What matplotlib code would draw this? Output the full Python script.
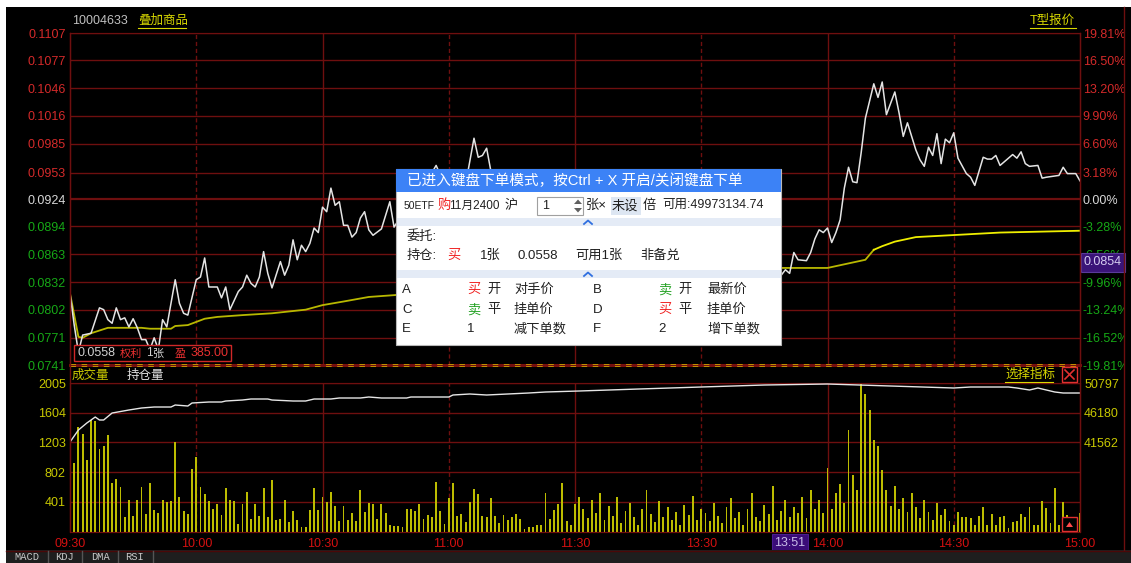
import numpy as np
import matplotlib
matplotlib.use("Agg")
import matplotlib.pyplot as plt
from matplotlib.patches import Rectangle, Polygon
from matplotlib.transforms import Bbox, TransformedBbox

plt.rcParams['font.family'] = ['Liberation Sans', 'Noto Sans CJK SC', 'DejaVu Sans']
plt.rcParams['font.size'] = 9

# ---------------- data ----------------
price_ticks = [0.1107, 0.1077, 0.1046, 0.1016, 0.0985, 0.0953, 0.0924,
               0.0894, 0.0863, 0.0832, 0.0802, 0.0771, 0.0741]
pct_labels = ['19.81%', '16.50%', '13.20%', '9.90%', '6.60%', '3.18%', '0.00%',
              '-3.28%', '-6.56%', '-9.96%', '-13.24%', '-16.52%', '-19.81%']
prev_close = 0.0924

time_ticks = [0, 30, 60, 90, 120, 150, 180, 210, 240]
time_labels = ['09:30', '10:00', '10:30', '11:00', '11:30', '13:30', '14:00', '14:30', '15:00']

vol_ticks = [401, 802, 1203, 1604, 2005]
oi_ticks = [41562, 46180, 50797]

# minute index (0 = 09:30, 120 = 11:30/13:00, 240 = 15:00) and price
price_min = [
    0, 1, 2, 3, 5, 7, 8, 9, 10, 11,
    12, 13, 14, 15, 16, 17, 18, 19, 20, 21,
    22, 23, 25, 26, 27, 28, 30, 31, 32, 33,
    35, 36, 37, 38, 40, 41, 42, 43, 44, 45,
    46, 47, 48, 50, 51, 52, 53, 54, 55, 56,
    57, 58, 59, 60, 61, 62, 63, 64, 65, 66,
    67, 68, 69, 70, 71, 72, 74, 76, 77, 80,
    83, 85, 87, 89, 92, 94, 96, 97, 98, 99,
    100, 103, 107, 112, 118, 125, 132, 140, 148, 155,
    162, 167, 169, 170, 171, 172, 173, 175, 176, 177,
    178, 179, 180, 181, 182, 183, 184, 185, 186, 187,
    188, 189, 191, 192, 193, 194, 196, 197, 198, 199,
    201, 202, 203, 204, 205, 206, 207, 208, 209, 210,
    211, 213, 214, 215, 217, 218, 219, 220, 221, 223,
    224, 225, 226, 227, 228, 230, 231, 232, 235, 236,
    237, 239, 240,
]
price_val = [
    0.0820, 0.0785, 0.0755, 0.0774, 0.0776, 0.0804, 0.0802, 0.0791, 0.0787, 0.0804,
    0.0791, 0.0793, 0.0783, 0.0792, 0.0782, 0.0769, 0.0769, 0.0758, 0.0771, 0.0758,
    0.0791, 0.0783, 0.0835, 0.0809, 0.0798, 0.0796, 0.0835, 0.0838, 0.0859, 0.0827,
    0.0827, 0.0815, 0.0827, 0.0802, 0.0822, 0.0827, 0.0840, 0.0831, 0.0827, 0.0838,
    0.0866, 0.0842, 0.0826, 0.0855, 0.0840, 0.0851, 0.0879, 0.0857, 0.0873, 0.0866,
    0.0875, 0.0892, 0.0887, 0.0915, 0.0910, 0.0936, 0.0917, 0.0921, 0.0895, 0.0895,
    0.0882, 0.0887, 0.0903, 0.0910, 0.0890, 0.0884, 0.0891, 0.0921, 0.0893, 0.0915,
    0.0935, 0.0945, 0.0961, 0.0940, 0.0948, 0.0940, 0.0991, 0.0970, 0.0972, 0.0980,
    0.0955, 0.0930, 0.0910, 0.0920, 0.0895, 0.0900, 0.0880, 0.0870, 0.0862, 0.0855,
    0.0848, 0.0845, 0.0840, 0.0846, 0.0842, 0.0865, 0.0857, 0.0856, 0.0865, 0.0880,
    0.0890, 0.0887, 0.0892, 0.0876, 0.0887, 0.0901, 0.0936, 0.0959, 0.0943, 0.0942,
    0.0975, 0.1013, 0.1051, 0.1036, 0.1053, 0.1017, 0.1042, 0.1019, 0.0993, 0.1008,
    0.0978, 0.0967, 0.0960, 0.0981, 0.0972, 0.0996, 0.0963, 0.0990, 0.0986, 0.0997,
    0.0969, 0.0952, 0.0948, 0.0939, 0.0970, 0.0968, 0.0968, 0.0972, 0.0961, 0.0969,
    0.0973, 0.0969, 0.0976, 0.0963, 0.0960, 0.0961, 0.0947, 0.0948, 0.0950, 0.0959,
    0.0952, 0.0952, 0.0944,
]

# average price line
avg_min = [0, 2, 3, 5, 9, 14, 17, 19, 24, 25,
           28, 32, 35, 41, 48, 56, 60, 65, 71, 77,
           100, 130, 150, 169, 174, 180, 183, 186, 189, 191,
           193, 196, 201, 209, 221, 240]
avg_val = [0.0820, 0.0772, 0.0771, 0.0776, 0.0782, 0.0782, 0.0782, 0.0781, 0.0781, 0.0784,
           0.0785, 0.0792, 0.0794, 0.0796, 0.0798, 0.0802, 0.0807, 0.0811, 0.0816, 0.0818,
           0.0827, 0.0838, 0.0845, 0.0848, 0.0848, 0.0848, 0.0851, 0.0854, 0.0857, 0.0868,
           0.0872, 0.0877, 0.0882, 0.0884, 0.0887, 0.0889]

# per-minute volume (成交量)
volume = [
    50, 930, 1405, 1310, 970, 1510, 1490, 1120, 1150, 1300,
    660, 715, 605, 200, 430, 215, 430, 605, 240, 660,
    295, 255, 430, 405, 415, 1215, 470, 280, 240, 850,
    1000, 605, 500, 415, 305, 365, 225, 590, 430, 415,
    105, 375, 540, 170, 375, 215, 590, 200, 700, 160,
    170, 430, 130, 280, 160, 65, 55, 295, 590, 295,
    470, 405, 540, 350, 145, 340, 160, 255, 145, 560,
    270, 390, 375, 170, 375, 255, 90, 80, 80, 55,
    305, 305, 280, 365, 170, 225, 200, 675, 280, 105,
    455, 660, 215, 240, 130, 405, 580, 500, 215, 190,
    455, 215, 120, 225, 160, 190, 240, 170, 40, 65,
    55, 85, 85, 525, 170, 295, 365, 660, 145, 85,
    365, 470, 300, 180, 420, 250, 520, 150, 340, 210,
    460, 120, 280, 380, 190, 90, 310, 560, 240, 130,
    410, 200, 330, 150, 270, 90, 360, 220, 480, 160,
    300, 250, 140, 380, 210, 110, 330, 450, 180, 260,
    90, 300, 520, 200, 140, 360, 230, 610, 150, 280,
    420, 190, 330, 250, 470, 180, 560, 300, 420, 250,
    860, 300, 520, 640, 380, 1375, 760, 560, 2000, 1850,
    1640, 1240, 1150, 830, 560, 350, 620, 300, 450, 260,
    520, 330, 180, 420, 260, 150, 380, 220, 310, 140,
    90, 270, 200, 190, 180, 90, 210, 335, 90, 235,
    90, 200, 210, 45, 125, 140, 235, 200, 335, 90,
    90, 410, 320, 110, 585, 90, 405, 225, 150, 60,
    245,
]

# open interest (持仓量)
oi_min = [0, 2, 4, 6, 7, 8, 10, 14, 17, 20,
          24, 25, 28, 29, 33, 36, 37, 41, 43, 47,
          48, 53, 56, 58, 62, 64, 69, 71, 74, 80,
          81, 90, 91, 95, 99, 104, 109, 113, 121, 135,
          150, 165, 180, 195, 210, 214, 223, 225, 228, 230,
          234, 236, 240]
oi_val = [41622, 43490, 44577, 45510, 45045, 45045, 46130, 46600, 46910, 47065,
          47065, 47376, 47220, 47687, 47842, 47842, 47998, 48153, 48309, 48309,
          48153, 47998, 47998, 48309, 48309, 48465, 48465, 48620, 48465, 48465,
          48620, 48620, 48931, 49087, 48931, 49087, 49242, 49398, 49553, 49860,
          50175, 50485, 50640, 50330, 50020, 50175, 50175, 50020, 49708, 50020,
          49398, 49242, 49242]

cursor_minute = 171
cursor_time = '13:51'
cursor_price = 0.0854

# ---------------- layout ----------------
W, H = 1131, 563


def px_box(x0, y0, x1, y1):
    return [x0 / W, 1 - y1 / H, (x1 - x0) / W, (y1 - y0) / H]


GRID = '#6e0f0f'
RED = '#d42a2a'
GREEN = '#16a816'
WHITE = '#d8d8d8'
YELLOW = '#c8c800'
TIME_RED = '#d41010'

fig = plt.figure(figsize=(W / 100, H / 100), dpi=100, facecolor='black')


def style(a):
    a.set_facecolor('black')
    for s in a.spines.values():
        s.set_color(GRID)
    a.tick_params(length=0)


def vgrid(a):
    for m in time_ticks[1:-1]:
        if m % 60 == 0:
            a.axvline(m, color=GRID, lw=1, zorder=1)
        else:
            a.axvline(m, color=GRID, lw=1, ls=(0, (3, 2)), zorder=1)


def tick_color(t):
    if abs(t - prev_close) < 1e-9:
        return WHITE
    return RED if t > prev_close else GREEN


# price panel
ax = fig.add_axes(px_box(70, 33, 1080, 365))
style(ax)
ax.set_xlim(0, 240)
ax.set_ylim(price_ticks[-1], price_ticks[0])
for t in price_ticks[:-1]:
    ax.axhline(t, color=GRID, lw=1.6 if t == prev_close else 1.0, zorder=1)
vgrid(ax)
ax.axhline(price_ticks[-1], color='#8a1010', lw=2, zorder=4, clip_on=False)
ax.axhline(price_ticks[-1], color='#d0a800', lw=2, ls=(0, (2, 2)), zorder=5, clip_on=False)

# average line: olive early in the day, brighter yellow in the afternoon
split = avg_min.index(191)
ax.plot(avg_min[:split + 1], avg_val[:split + 1], color='#b8b800', lw=1.3, zorder=2)
ax.plot(avg_min[split:], avg_val[split:], color='#eeee00', lw=1.3, zorder=2)
ax.plot(price_min, price_val, color='#e4e4e4', lw=1.1, zorder=3)

ax.set_xticks([])
ax.set_yticks(price_ticks)
ax.set_yticklabels([f'{t:.4f}' for t in price_ticks])
for lbl, t in zip(ax.get_yticklabels(), price_ticks):
    lbl.set_color(tick_color(t))
ax.tick_params(axis='y', pad=3)

axr = ax.twinx()
style(axr)
axr.set_ylim(ax.get_ylim())
axr.set_yticks(price_ticks)
axr.set_yticklabels(pct_labels)
axr.tick_params(axis='y', pad=2)
clip = TransformedBbox(Bbox([[0, 0], [1124 / W, 1]]), fig.transFigure)
for lbl, t in zip(axr.get_yticklabels(), price_ticks):
    lbl.set_color(tick_color(t))
    lbl.set_clip_box(clip)
    lbl.set_clip_on(True)

axr.annotate(f'{cursor_price:.4f}', xy=(1, cursor_price),
             xycoords=('axes fraction', 'data'), xytext=(4, 0),
             textcoords='offset pixels', ha='left', va='center',
             color='#d4ccf0', fontsize=9, annotation_clip=False, zorder=10,
             bbox=dict(boxstyle='square,pad=0.25', fc='#3a1478', ec='#5a3a9a', lw=0.8))

# volume / open interest panel
axv = fig.add_axes(px_box(70, 383, 1080, 531.5))
style(axv)
axv.set_xlim(0, 240)
axv.set_ylim(0, vol_ticks[-1])
for t in vol_ticks:
    axv.axhline(t, color=GRID, lw=1, zorder=1)
vgrid(axv)
axv.bar(np.arange(len(volume)), volume, width=0.45, color='#bcbc00', lw=0, zorder=3)
axv.set_yticks(vol_ticks)
axv.set_yticklabels([str(v) for v in vol_ticks])
axv.tick_params(axis='y', labelcolor=YELLOW, pad=3)
axv.set_xticks(time_ticks)
axv.set_xticklabels(time_labels)
axv.tick_params(axis='x', labelcolor=TIME_RED, pad=5)
axv.annotate(cursor_time, xy=(cursor_minute, 0), xycoords=('data', 'axes fraction'),
             xytext=(0, -11), textcoords='offset pixels', ha='center', va='center',
             color='#c8bce8', fontsize=9, annotation_clip=False, zorder=10,
             bbox=dict(boxstyle='square,pad=0.2', fc='#3a0c78', ec='#4a1c90', lw=0.8))

axo = axv.twinx()
style(axo)
step = oi_ticks[-1] - oi_ticks[-2]
axo.set_ylim(oi_ticks[-1] - 5 * step, oi_ticks[-1])
axo.plot(oi_min, oi_val, color='#e6e6e6', lw=1.0, zorder=3)
axo.set_yticks(oi_ticks)
axo.set_yticklabels([str(v) for v in oi_ticks])
axo.tick_params(axis='y', labelcolor=YELLOW, pad=3)

# ---------------- overlay (window chrome, texts, order dialog) ----------------
ov = fig.add_axes([0, 0, 1, 1])
ov.set_xlim(0, W)
ov.set_ylim(H, 0)
ov.axis('off')
ov.patch.set_visible(False)


def T(x, y, s, color='#202020', size=9, **kw):
    kw.setdefault('zorder', 22)
    ov.text(x, y, s, color=color, fontsize=size, va='center', ha='left', **kw)


# screenshot edges and frame lines
ov.add_patch(Rectangle((0, 0), W, 7, fc='white', ec='none', zorder=1))
ov.add_patch(Rectangle((0, 0), 6, H, fc='white', ec='none', zorder=1))
ov.plot([70, 70], [33, 531], color=GRID, lw=1, zorder=2)
ov.plot([1080, 1080], [33, 531], color=GRID, lw=1, zorder=2)
ov.plot([1124, 1124], [7, 550], color=GRID, lw=1, zorder=2)

# bottom indicator tabs
ov.add_patch(Rectangle((6, 550), W - 6, 13, fc='#1e1e1e', ec='none', zorder=1))
ov.plot([6, W], [550.5, 550.5], color='#4a0808', lw=1, zorder=2)
for name, cx in zip(['MACD', 'KDJ', 'DMA', 'RSI'], [27, 65, 100, 135]):
    ov.text(cx, 557, name, color='#c8c8c8', fontsize=7.5, family='Liberation Mono',
            ha='center', va='center', zorder=3)
for sx in [48, 82, 118, 153]:
    ov.plot([sx, sx], [551, 563], color='#555555', lw=1, zorder=3)

# header
T(72, 21, '10004633', '#c0c0c0', 9, zorder=3)
T(138, 21, '叠加商品', '#d8d800', 9, zorder=3)
ov.plot([138, 186], [28, 28], color='#d8d800', lw=0.8, zorder=3)
T(1030, 21, 'T型报价', '#d8d800', 9, zorder=3)
ov.plot([1030, 1076], [28, 28], color='#d8d800', lw=0.8, zorder=3)

# volume panel header
T(72, 376, '成交量', YELLOW, 9, zorder=3)
T(127, 376, '持仓量', '#e0e0e0', 9, zorder=3)
T(1005, 375, '选择指标', '#d8d800', 9, zorder=3)
ov.plot([1005, 1053], [382, 382], color='#d8d800', lw=0.8, zorder=3)
ov.add_patch(Rectangle((1062, 367), 15, 15, fc='black', ec='#e03030', lw=1, zorder=3))
ov.plot([1065, 1074], [370, 379], color='#e03030', lw=1.2, zorder=4)
ov.plot([1065, 1074], [379, 370], color='#e03030', lw=1.2, zorder=4)

# small box at end of volume panel
ov.add_patch(Rectangle((1062, 517), 15, 14, fc='black', ec='#e03030', lw=1, zorder=4))
ov.add_patch(Polygon([[1066, 527], [1073, 527], [1069.5, 522]], closed=True,
                     fc='#ff4a4a', ec='none', zorder=5))

# position label inside price panel
ov.add_patch(Rectangle((74, 345), 157, 16, fc='black', ec='#d02828', lw=1, zorder=6))
T(77, 353.5, '0.0558', '#d0d0d0', 9, zorder=7)
T(120, 353.5, '权利', '#e83030', 8, zorder=7)
T(146, 353.5, '1', '#d0d0d0', 8.5, zorder=7)
T(152, 353.5, '张', '#d0d0d0', 8, zorder=7)
T(175, 353.5, '盈', '#e83030', 8, zorder=7)
T(191, 353.5, '385.00', '#e83030', 9, zorder=7)

# keyboard order dialog
px0, py0, px1, py1 = 396, 169, 781, 345
ov.add_patch(Rectangle((px0, py0), px1 - px0, py1 - py0, fc='white', ec='#b8b8b8', lw=0.8, zorder=20))
ov.add_patch(Rectangle((px0, py0), px1 - px0, 23, fc='#3c82f6', ec='none', zorder=21))
T(407, 181, '已进入键盘下单模式，按Ctrl + X 开启/关闭键盘下单', 'white', 10.5)

BUY = '#f02020'
SELL = '#20a020'
T(404, 206, '50ETF', size=7.5)
T(437, 206, '购', BUY, 9.5)
T(449, 206, '11月2400', size=8.5)
T(505, 206, '沪', size=9.5)
ov.add_patch(Rectangle((537, 197), 46, 18, fc='white', ec='#a0a0a0', lw=0.8, zorder=21))
T(542, 206, '1', size=9)
ov.add_patch(Polygon([[574, 204], [582, 204], [578, 199.5]], closed=True, fc='#606060', ec='none', zorder=22))
ov.add_patch(Polygon([[574, 208], [582, 208], [578, 212.5]], closed=True, fc='#606060', ec='none', zorder=22))
T(586, 206, '张×', size=9.5)
ov.add_patch(Rectangle((611, 197), 30, 18, fc='#dde6f2', ec='none', zorder=21))
T(612, 206, '未设', size=9.5)
T(643, 206, '倍', size=9.5)
T(662, 206, '可用:49973134.74', size=9)

for by in [218, 270]:
    ov.add_patch(Rectangle((px0 + 0.5, by), px1 - px0 - 1, 8, fc='#e4ebf6', ec='none', zorder=21))
    ov.plot([584, 588, 592], [by + 6, by + 2.5, by + 6], color='#2f6fe0', lw=1.3, zorder=22)

T(407, 237, '委托:', size=9.5)
T(407, 256, '持仓:', size=9.5)
T(447, 256, '买', BUY, 9.5)
T(480, 256, '1张', size=9.5)
T(517, 256, '0.0558', size=9.5)
T(575, 256, '可用1张', size=9.5)
T(640, 256, '非备兑', size=9.5)

rows = [
    ('A', ('买', BUY), '开', '对手价', 'B', ('卖', SELL), '开', '最新价'),
    ('C', ('卖', SELL), '平', '挂单价', 'D', ('买', BUY), '平', '挂单价'),
    ('E', ('1', '#202020'), '', '减下单数', 'F', ('2', '#202020'), '', '增下单数'),
]
for ry, row in zip([290, 310, 329], rows):
    k1, (s1, c1), a1, p1, k2, (s2, c2), a2, p2 = row
    T(402, ry, k1, size=9.5)
    T(467, ry, s1, c1, 9.5)
    T(487, ry, a1, size=9.5)
    T(514, ry, p1, size=9.5)
    T(593, ry, k2, size=9.5)
    T(658, ry, s2, c2, 9.5)
    T(678, ry, a2, size=9.5)
    T(707, ry, p2, size=9.5)

fig.savefig('out.png', dpi=100, facecolor='black')
